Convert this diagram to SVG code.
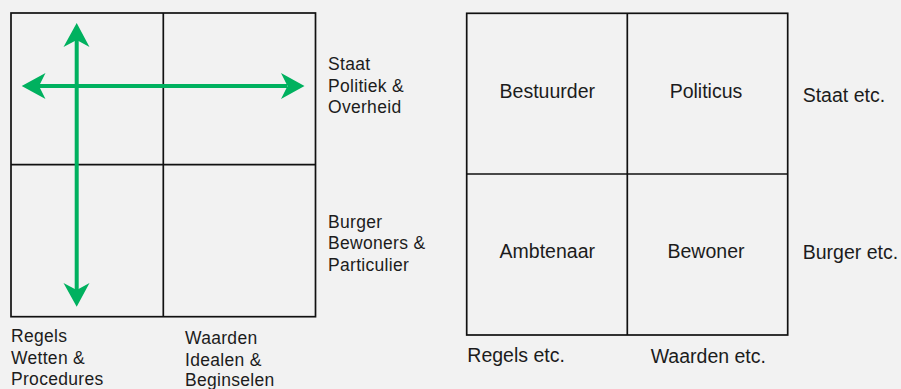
<svg xmlns="http://www.w3.org/2000/svg" width="901" height="389" viewBox="0 0 901 389">
  <style>
    .grid { fill: none; stroke: #111; stroke-width: 1.7; }
    .axis { stroke: #00b15f; stroke-width: 4; fill: none; }
    .head { fill: #00b15f; }
    .lbl { font-family: "Liberation Sans", Arial, sans-serif; font-size: 17.5px; letter-spacing: 0.3px; fill: #1c1c1c; }
    .cell { font-family: "Liberation Sans", Arial, sans-serif; font-size: 19.5px; fill: #1c1c1c; }
    .mid { text-anchor: middle; }
  </style>
  <rect width="901" height="389" fill="#f2f2f2"/>

  <!-- left matrix -->
  <g id="left-matrix">
    <rect class="grid" x="11" y="13" width="304.5" height="303.7"/>
    <line class="grid" x1="163.3" y1="13" x2="163.3" y2="316.7"/>
    <line class="grid" x1="11" y1="164.7" x2="315.5" y2="164.7"/>
  </g>

  <!-- axes with double arrowheads -->
  <g id="connectors">
    <line class="axis" x1="76.7" y1="40" x2="76.7" y2="291"/>
    <line class="axis" x1="39" y1="86" x2="287" y2="86"/>
    <path class="head" d="M76.7,23 L89.5,47 L76.7,40 L63.5,47 Z"/>
    <path class="head" d="M76.7,306.7 L89.5,283 L76.7,290 L63.5,283 Z"/>
    <path class="head" d="M21.7,86 L45.5,73 L39,86 L45.5,99 Z"/>
    <path class="head" d="M304.5,86 L281,73 L287.5,86 L281,99 Z"/>
  </g>

  <g id="label-staat">
    <text class="lbl" x="328" y="69.5">Staat</text>
    <text class="lbl" x="328" y="91.5">Politiek &amp;</text>
    <text class="lbl" x="328" y="113">Overheid</text>
  </g>
  <g id="label-burger">
    <text class="lbl" x="328" y="227.5">Burger</text>
    <text class="lbl" x="328" y="249">Bewoners &amp;</text>
    <text class="lbl" x="328" y="270.7">Particulier</text>
  </g>
  <g id="label-regels">
    <text class="lbl" x="11" y="342.3">Regels</text>
    <text class="lbl" x="11" y="364">Wetten &amp;</text>
    <text class="lbl" x="11" y="385">Procedures</text>
  </g>
  <g id="label-waarden">
    <text class="lbl" x="185" y="344">Waarden</text>
    <text class="lbl" x="185" y="365.5">Idealen &amp;</text>
    <text class="lbl" x="185" y="385.5">Beginselen</text>
  </g>

  <!-- right matrix -->
  <g id="right-matrix">
    <rect class="grid" x="466.7" y="13.3" width="321" height="321.7"/>
    <line class="grid" x1="627.3" y1="13.3" x2="627.3" y2="335"/>
    <line class="grid" x1="466.7" y1="174" x2="787.7" y2="174"/>
  </g>
  <g id="cell-bestuurder"><text class="cell mid" x="547.3" y="98.3">Bestuurder</text></g>
  <g id="cell-politicus"><text class="cell mid" x="706" y="98.3">Politicus</text></g>
  <g id="cell-ambtenaar"><text class="cell mid" x="547.3" y="257.7">Ambtenaar</text></g>
  <g id="cell-bewoner"><text class="cell mid" x="706" y="257.7">Bewoner</text></g>
  <g id="label-staat-etc"><text class="cell" x="802.7" y="101.7">Staat etc.</text></g>
  <g id="label-burger-etc"><text class="cell" x="802.7" y="259">Burger etc.</text></g>
  <g id="label-regels-etc"><text class="cell" x="467.3" y="361.7">Regels etc.</text></g>
  <g id="label-waarden-etc"><text class="cell" x="650.7" y="363.3">Waarden etc.</text></g>
</svg>
